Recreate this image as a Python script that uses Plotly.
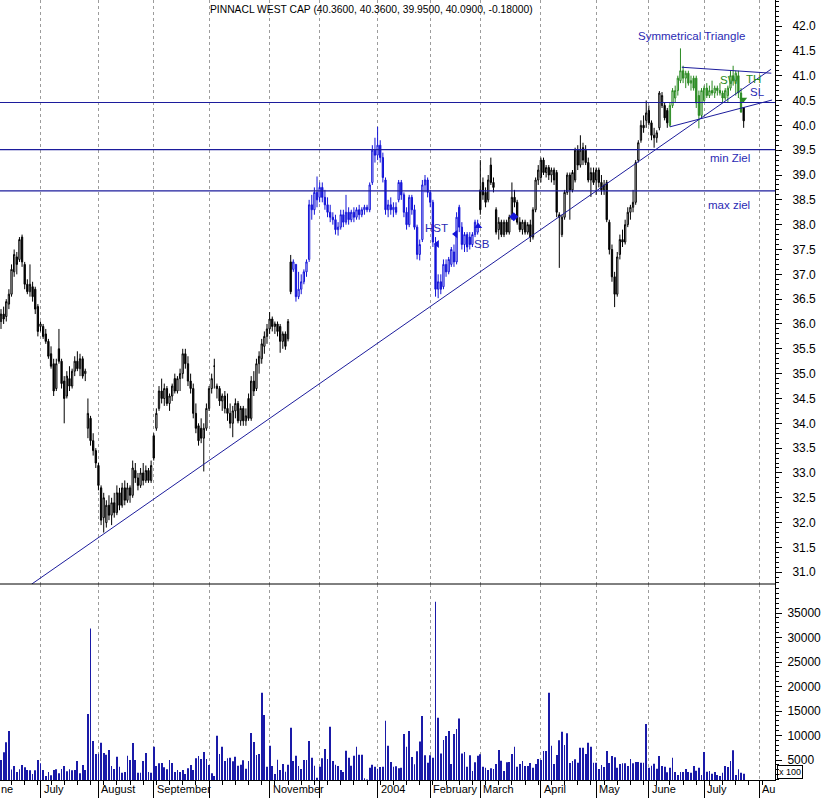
import plotly.graph_objects as go

TITLE = "PINNACL WEST CAP (40.3600, 40.3600, 39.9500, 40.0900, -0.18000)"

# ---- daily OHLC (trading-day index 0 = 10 Jun 2003 ... 282 = 23 Jul 2004) ----
opens = [
    36.05, 36.20, 36.15, 36.40, 36.60, 37.05, 37.35, 37.30, 37.75, 37.20, 36.80, 36.65, 36.75, 36.70, 36.35,
    35.95, 35.95, 35.80, 35.65, 35.40, 35.20, 34.70, 35.50, 35.25, 34.85, 34.55, 34.90, 34.75, 35.05, 35.25,
    35.10, 35.30, 35.00, 33.90, 34.10, 33.65, 33.45,
    33.15, 32.70, 32.10, 32.00, 32.35, 32.15, 32.40, 32.20, 32.60, 32.35, 32.70, 32.45, 32.70, 32.55, 33.05,
    32.90, 32.75, 33.00, 32.85, 33.05, 32.85,
    33.75, 33.90, 34.30, 34.65, 34.50, 34.70, 34.40, 34.55, 34.90, 34.65, 34.90, 35.00, 35.40, 35.20, 34.85,
    34.70, 34.20, 33.95, 33.90, 33.70, 33.90,
    34.30, 34.70, 35.15, 34.75, 34.70, 34.45, 34.55, 34.30, 34.20, 34.00, 34.25, 34.40, 34.05, 34.30, 34.05,
    34.50, 34.10, 34.85, 34.70, 35.20, 35.30, 35.55, 35.75,
    35.90, 36.10, 35.95, 36.00, 35.95, 35.65, 35.80, 35.70, 37.25, 37.10, 37.20, 36.55, 36.70, 36.85, 37.05,
    37.30, 38.40, 38.30, 38.65,
    38.55, 38.75, 38.55, 38.40, 38.25, 38.15, 38.10, 37.90, 37.95, 38.20, 38.05, 38.25, 38.10, 38.25, 38.15,
    38.30, 38.20, 38.30, 38.35, 38.30, 38.85, 39.50,
    39.40, 39.60, 39.35, 38.90, 38.30, 38.40, 38.30, 38.35, 38.50, 38.85, 38.60, 38.25, 38.00, 38.55, 38.30,
    37.95, 37.40, 37.70, 38.80, 38.90,
    38.65, 38.45, 37.60, 36.70, 36.85, 36.75, 37.20, 37.05, 37.20, 37.45, 37.25, 38.35, 37.95, 37.60, 37.80,
    37.75, 37.60, 37.80, 37.85,
    38.70, 38.85, 38.65, 38.50, 39.20, 38.85, 38.30, 37.90, 38.05, 37.80, 38.05, 37.85, 38.15, 38.55, 38.45,
    38.05, 37.90, 38.05, 37.85, 38.00, 37.75, 38.30, 38.90,
    38.95, 39.30, 39.05, 39.15, 39.00, 39.10, 39.05, 38.20, 37.80, 38.15, 38.65, 39.00, 38.70, 38.90, 39.50,
    39.20, 39.55, 39.50, 39.25, 38.90, 39.05,
    38.90, 39.10, 38.85, 38.70, 38.85, 38.05, 37.50, 36.95, 36.60, 37.40, 37.70, 37.65, 38.00, 38.25, 38.35,
    38.45, 39.30, 39.70, 40.00, 40.10,
    40.30, 40.05, 39.80, 39.75, 39.95, 40.40, 40.40, 40.30, 40.00, 40.40, 40.55, 40.70, 40.90, 41.10, 40.95,
    41.05, 40.85, 40.95, 40.95, 40.60, 40.20,
    40.50, 40.75, 40.60, 40.70, 40.65, 40.75, 40.70, 40.65, 40.55, 40.60, 40.75, 41.00, 40.90, 41.00, 40.65,
    40.36,
]
highs = [
    36.30, 36.35, 36.50, 36.70, 37.20, 37.50, 37.45, 37.75, 37.80, 37.25, 36.90, 37.20, 36.85, 36.75, 36.40,
    36.05, 36.00, 35.90, 35.70, 35.55, 35.30, 35.30, 35.90, 35.30, 34.95, 35.05, 35.15, 35.10, 35.35, 35.45,
    35.40, 35.35, 35.10, 34.50, 34.15, 33.80, 33.50,
    33.20, 32.75, 32.60, 32.45, 32.55, 32.50, 32.60, 32.75, 32.70, 32.80, 32.85, 32.80, 32.75, 33.25, 33.20,
    33.00, 33.10, 33.20, 33.15, 33.10, 33.25,
    33.80, 34.30, 34.75, 34.90, 34.80, 34.75, 34.60, 34.80, 35.00, 34.95, 35.10, 35.50, 35.50, 35.35, 35.00,
    34.80, 34.40, 34.00, 34.10, 34.00, 34.40,
    34.75, 35.00, 35.30, 34.80, 34.75, 34.60, 34.65, 34.60, 34.40, 34.35, 34.50, 34.45, 34.35, 34.35, 34.30,
    34.60, 34.95, 35.05, 35.30, 35.45, 35.70, 35.85, 36.00,
    36.24, 36.15, 36.05, 36.05, 36.00, 35.85, 35.85, 36.10, 37.39, 37.30, 37.20, 37.05, 37.00, 37.10, 37.30,
    38.50, 38.60, 38.75, 38.97,
    38.85, 38.85, 38.70, 38.55, 38.40, 38.25, 38.20, 38.05, 38.30, 38.30, 38.60, 38.35, 38.30, 38.35, 38.35,
    38.40, 38.35, 38.40, 38.40, 38.85, 39.60, 39.75,
    39.97, 39.70, 39.45, 38.95, 38.50, 38.55, 38.45, 38.45, 38.90, 38.90, 38.65, 38.35, 38.60, 38.60, 38.40,
    38.00, 37.70, 38.90, 39.00, 38.95,
    38.70, 38.50, 37.75, 37.00, 37.00, 37.30, 37.30, 37.35, 37.55, 37.60, 38.25, 38.40, 38.05, 37.85, 37.85,
    37.85, 37.85, 38.10, 38.10,
    39.30, 38.95, 38.75, 39.00, 39.35, 38.95, 38.35, 38.15, 38.10, 38.10, 38.10, 38.20, 38.85, 38.70, 38.50,
    38.15, 38.10, 38.10, 38.05, 38.10, 38.35, 38.95, 39.20,
    39.35, 39.35, 39.20, 39.20, 39.15, 39.15, 39.10, 38.25, 38.20, 38.70, 39.05, 39.05, 39.10, 39.55, 39.60,
    39.80, 39.65, 39.60, 39.35, 39.15, 39.15,
    39.15, 39.15, 39.00, 38.90, 38.90, 38.10, 37.60, 37.05, 37.45, 37.80, 37.90, 38.10, 38.35, 38.40, 38.70,
    39.30, 39.70, 40.10, 40.20, 40.50,
    40.40, 40.10, 39.95, 39.90, 40.69, 40.67, 40.45, 40.35, 40.45, 40.75, 40.80, 41.00, 41.55, 41.20, 41.10,
    41.10, 41.00, 41.00, 41.00, 40.70, 40.75,
    40.80, 40.85, 40.80, 40.90, 40.80, 40.80, 40.85, 40.70, 40.75, 40.80, 41.10, 41.20, 41.10, 41.10, 40.75,
    40.36,
]
lows = [
    35.90, 36.00, 36.05, 36.30, 36.55, 36.95, 37.00, 37.25, 37.15, 36.70, 36.60, 36.55, 36.45, 36.20, 35.75,
    35.85, 35.70, 35.60, 35.30, 35.10, 34.55, 34.65, 35.20, 34.70, 34.00, 34.50, 34.65, 34.70, 34.95, 35.05,
    34.95, 34.90, 34.85, 33.70, 33.55, 33.35, 33.10,
    32.65, 31.95, 31.80, 31.90, 32.05, 31.95, 32.10, 32.15, 32.25, 32.30, 32.35, 32.40, 32.40, 32.50, 32.80,
    32.65, 32.70, 32.75, 32.80, 32.80, 32.80,
    33.25, 33.85, 34.25, 34.40, 34.35, 34.35, 34.25, 34.45, 34.60, 34.60, 34.65, 34.90, 35.10, 34.75, 34.60,
    34.10, 33.80, 33.55, 33.60, 33.03, 33.85,
    34.25, 34.60, 34.70, 34.50, 34.35, 34.25, 34.20, 34.05, 33.90, 33.72, 34.10, 34.00, 33.95, 33.95, 33.95,
    34.05, 34.05, 34.55, 34.65, 35.00, 35.20, 35.40, 35.60,
    35.80, 35.85, 35.80, 35.75, 35.42, 35.50, 35.48, 35.65, 36.60, 37.05, 36.45, 36.50, 36.60, 36.80, 36.95,
    37.25, 38.10, 38.20, 38.35,
    38.45, 38.45, 38.30, 38.15, 38.05, 38.00, 37.80, 37.78, 37.90, 37.95, 38.00, 38.00, 38.05, 38.05, 38.10,
    38.10, 38.15, 38.20, 38.25, 38.25, 38.80, 39.25,
    39.30, 39.25, 38.85, 38.20, 38.15, 38.20, 38.15, 38.20, 38.45, 38.50, 38.15, 37.90, 37.95, 38.20, 37.90,
    37.30, 37.28, 37.65, 38.65, 38.55,
    38.35, 37.55, 36.55, 36.52, 36.60, 36.70, 36.95, 37.00, 37.15, 37.15, 37.20, 37.85, 37.50, 37.45, 37.45,
    37.50, 37.55, 37.75, 37.80,
    38.20, 38.50, 38.35, 38.45, 38.80, 38.65, 37.80, 37.70, 37.75, 37.75, 37.80, 37.80, 38.10, 38.35, 38.00,
    37.85, 37.80, 37.80, 37.80, 37.65, 37.70, 38.25, 38.80,
    38.85, 39.00, 38.95, 38.90, 38.85, 38.80, 38.15, 37.13, 37.75, 38.10, 38.60, 38.10, 38.65, 38.85, 39.10,
    39.15, 39.20, 39.20, 38.85, 38.56, 38.80,
    38.60, 38.75, 38.60, 38.60, 38.05, 37.40, 36.85, 36.34, 36.55, 37.30, 37.55, 37.60, 37.95, 38.10, 38.25,
    38.40, 39.25, 39.65, 39.85, 39.95,
    40.00, 39.70, 39.55, 39.65, 39.90, 40.35, 40.10, 39.95, 39.97, 40.35, 40.45, 40.60, 40.85, 40.85, 40.75,
    40.80, 40.70, 40.70, 40.35, 39.94, 40.15,
    40.45, 40.55, 40.55, 40.60, 40.55, 40.60, 40.60, 40.45, 40.50, 40.45, 40.70, 40.80, 40.60, 40.55, 40.25,
    39.95,
]
closes = [
    36.20, 36.10, 36.45, 36.60, 37.10, 37.40, 37.20, 37.70, 37.25, 36.80, 36.65, 36.80, 36.55, 36.30, 35.85,
    36.00, 35.75, 35.65, 35.35, 35.15, 34.65, 35.20, 35.25, 34.80, 34.50, 34.95, 34.75, 35.05, 35.25, 35.10,
    35.30, 34.95, 35.05, 34.20, 33.65, 33.45, 33.20,
    32.75, 32.05, 32.50, 32.35, 32.15, 32.40, 32.20, 32.60, 32.35, 32.70, 32.45, 32.70, 32.55, 33.10, 32.90,
    32.75, 33.00, 32.85, 33.05, 32.85, 33.15,
    33.30, 34.20, 34.65, 34.50, 34.70, 34.40, 34.55, 34.75, 34.65, 34.90, 35.00, 35.40, 35.20, 34.85, 34.70,
    34.20, 33.90, 33.65, 33.70, 33.90, 34.30,
    34.70, 34.90, 35.15, 34.70, 34.45, 34.55, 34.30, 34.20, 34.00, 34.25, 34.40, 34.05, 34.30, 34.05, 34.15,
    34.10, 34.85, 34.65, 35.20, 35.35, 35.60, 35.75, 35.90,
    36.10, 35.95, 36.00, 35.85, 35.65, 35.80, 35.55, 36.05, 36.65, 37.25, 36.55, 36.70, 36.85, 37.05, 37.25,
    38.40, 38.30, 38.65, 38.50,
    38.75, 38.55, 38.40, 38.25, 38.15, 38.10, 37.90, 37.95, 38.20, 38.05, 38.25, 38.10, 38.25, 38.15, 38.30,
    38.20, 38.30, 38.35, 38.30, 38.80, 39.50, 39.40,
    39.60, 39.35, 38.95, 38.30, 38.40, 38.30, 38.35, 38.25, 38.85, 38.60, 38.25, 38.00, 38.55, 38.30, 37.95,
    37.40, 37.60, 38.80, 38.90, 38.65,
    38.45, 37.65, 36.70, 36.85, 36.70, 37.20, 37.05, 37.30, 37.50, 37.25, 38.15, 37.95, 37.60, 37.80, 37.55,
    37.60, 37.80, 38.05, 38.00,
    38.30, 38.60, 38.45, 38.90, 38.85, 38.75, 37.85, 38.05, 37.80, 38.05, 37.85, 38.15, 38.55, 38.45, 38.05,
    37.90, 38.05, 37.85, 38.00, 37.75, 38.30, 38.90, 39.10,
    39.30, 39.05, 39.15, 39.00, 39.10, 38.90, 38.25, 38.15, 38.15, 38.65, 39.00, 38.70, 39.05, 39.50, 39.20,
    39.50, 39.30, 39.25, 38.90, 39.05, 38.85,
    39.10, 38.85, 38.70, 38.80, 38.10, 37.50, 36.95, 36.60, 37.35, 37.70, 37.65, 38.00, 38.25, 38.35, 38.45,
    39.25, 39.65, 40.00, 39.95, 40.25,
    40.05, 39.80, 39.75, 39.85, 40.65, 40.60, 40.15, 40.05, 40.40, 40.70, 40.70, 40.95, 41.10, 40.95, 41.05,
    40.85, 40.90, 40.75, 40.45, 40.20, 40.70,
    40.75, 40.60, 40.70, 40.65, 40.75, 40.70, 40.65, 40.55, 40.70, 40.75, 41.00, 40.90, 41.05, 40.65, 40.27,
    40.09,
]
# daily volume (in units of 100 shares)
volumes = [
    5000, 6560, 8600, 10900, 3060, 3770, 2550, 3090, 3980, 3500, 2960, 2890, 2140, 2890, 5000,
    4320, 2960, 1730, 2550, 1870, 2960, 3090, 2280, 3160, 3770, 2690, 3090, 2890, 2960, 4790,
    2280, 3980, 2960, 14380, 31860, 8870, 6220,
    6290, 8530, 6430, 6090, 7040, 3770, 3160, 5680, 3640, 2410, 2550, 5880, 5000, 8470, 5000,
    2410, 2410, 4790, 6430, 2550, 2410,
    7720, 3770, 4320, 4390, 3500, 3090, 5000, 4390, 2550, 2960, 2550, 2960, 2140, 3300, 3980,
    2960, 5370, 5810, 5200, 6630, 5200,
    3980, 2280, 1730, 9960, 6220, 7720, 4790, 5370, 5440, 4730, 5680, 3840, 4050, 4930, 3230,
    4790, 10510, 8670, 6020, 6220, 18730, 14180, 3640,
    7920, 3770, 2140, 5070, 2960, 4180, 2620, 4050, 11590, 4790, 5880, 3770, 3160, 5000, 5000,
    8870, 5470, 3840, 1390,
    3640, 5340, 7240, 5200, 11800, 4790, 4050, 3770, 2960, 2550, 6900, 5470, 3840, 5880, 7720,
    6090, 6090, 1260, 1000, 3430, 4050, 3640,
    3230, 3570, 3640, 13020, 7920, 4590, 3640, 3700, 3300, 3430, 10300, 7720, 10920, 5610, 4120,
    6800, 8770, 13970, 5980, 4420,
    5980, 5440, 37300, 13630, 6350, 9080, 9890, 10920, 4180, 10300, 11320, 13490, 6350, 6630, 3630,
    5980, 2750, 4560, 5850,
    6190, 3630, 3430, 2960, 3300, 3160, 4180, 7040, 4870, 2750, 4520, 4590, 6220, 7720, 3640,
    4180, 4790, 3770, 3770, 4390, 3430, 4180, 5200,
    5000, 6830, 6830, 18730, 7920, 4180, 6020, 9010, 10780, 8060, 10440, 4390, 4790, 5130, 4450,
    7520, 7520, 6220, 8530, 7720, 4450,
    4450, 3160, 3980, 3570, 6830, 4390, 5810, 5540, 3430, 4180, 4320, 4320, 3770, 5200, 4320,
    4590, 4590, 4450, 4450, 12350,
    3430, 3840, 4250, 3230, 5810, 3770, 3640, 2480, 3430, 5470, 2550, 1940, 2550, 2550, 3160,
    2550, 2410, 3770, 2820, 3430, 1940,
    6630, 2620, 2750, 2210, 2550, 1940, 1730, 2380, 3770, 3570, 4790, 6970, 1940, 3090, 2410,
    2210,
]
day_index = list(range(len(closes)))

# trading-day index of the first session of each month, and its label
month_start = [-6, 15, 37, 58, 79, 102, 121, 143, 163, 182, 205, 226, 246, 267, 288]
month_label = ["ne", "July", "August", "September", "", "November", "", "2004",
               "February", "March", "April", "May", "June", "July", "Au"]

# candle colouring by pattern segment (first index, last index, colour)
color_segments = [(0, 110, "#000000"), (111, 181, "#1414d8"), (182, 253, "#000000"),
                  (254, 281, "#2a8a22"), (282, 282, "#000000")]

# horizontal target levels
levels = [40.46, 39.51, 38.68]
# trend lines: (index, price) end points
trend_idx = [11.6, 292.4]
trend_px = [30.76, 41.13]
tri_upper_idx = [258.5, 292.5]
tri_upper_px = [41.17, 41.05]
tri_lower_idx = [254.0, 292.8]
tri_lower_px = [39.97, 40.51]

# signal markers
sig_idx = [165.6, 172.6, 181.2, 194.7, 281.8]
sig_px = [37.61, 37.81, 37.97, 38.16, 40.52]
sig_sym = ["triangle-left", "triangle-left", "triangle-up", "diamond", "triangle-down"]
sig_col = ["#1414d8", "#1414d8", "#1414d8", "#1414d8", "#2a8a22"]

price_ticks = [31.0 + 0.5 * k for k in range(23)]
vol_ticks = [5000, 10000, 15000, 20000, 25000, 30000, 35000]

X_MIN, X_MAX = -0.38, 293.9
P_MIN, P_MAX = 30.764, 42.524
V_MIN, V_MAX = 918, 40918
SPLIT = 196 / 780

LINE_BLUE = "#1c1c9c"
TEXT_BLUE = "#2a2ab4"
FONT = "Liberation Sans, Arial, sans-serif"

fig = go.Figure()

for a, b, col in color_segments:
    sl = slice(a, b + 1)
    fig.add_trace(go.Candlestick(
        x=day_index[sl], open=opens[sl], high=highs[sl], low=lows[sl], close=closes[sl],
        increasing=dict(line=dict(color=col, width=1), fillcolor="white"),
        decreasing=dict(line=dict(color=col, width=1), fillcolor=col),
        whiskerwidth=0, showlegend=False, hoverinfo="skip",
        xaxis="x", yaxis="y",
    ))

for xs, ys in [(trend_idx, trend_px), (tri_upper_idx, tri_upper_px), (tri_lower_idx, tri_lower_px)]:
    fig.add_trace(go.Scatter(x=xs, y=ys, mode="lines", line=dict(color=LINE_BLUE, width=1),
                             showlegend=False, hoverinfo="skip", xaxis="x", yaxis="y"))

fig.add_trace(go.Scatter(x=sig_idx, y=sig_px, mode="markers",
                         marker=dict(symbol=sig_sym, color=sig_col, size=7, line=dict(width=0)),
                         showlegend=False, hoverinfo="skip", xaxis="x", yaxis="y"))

fig.add_trace(go.Bar(x=day_index, y=volumes, width=0.3,
                     marker=dict(color="#1a1aa8", line=dict(width=0)),
                     showlegend=False, hoverinfo="skip", xaxis="x2", yaxis="y2"))

shapes = []
for lv in levels:
    shapes.append(dict(type="line", xref="paper", yref="y", x0=0, x1=1, y0=lv, y1=lv,
                       line=dict(color=LINE_BLUE, width=1.2), layer="above"))
shapes.append(dict(type="line", xref="paper", yref="paper", x0=0, x1=1, y0=SPLIT, y1=SPLIT,
                   line=dict(color="black", width=1), layer="above"))

annotations = []
annotations.append(dict(text=TITLE, xref="paper", yref="paper", x=372 / 777, y=1,
                        xanchor="center", yanchor="top", yshift=-2, showarrow=False,
                        font=dict(family=FONT, size=10.3, color="black")))
for idx, lab in zip(month_start, month_label):
    if not lab:
        continue
    xp = max((idx - X_MIN) / (X_MAX - X_MIN), 0.0)
    annotations.append(dict(text=lab, xref="paper", yref="paper",
                            x=xp, y=0,
                            xanchor="left", yanchor="top", xshift=1 if xp > 0 else -1,
                            yshift=-1, showarrow=False,
                            font=dict(family=FONT, size=11, color="black")))

labels = [
    ("Symmetrical Triangle", 262.3, 41.80, TEXT_BLUE),
    ("min Ziel", 276.9, 39.34, TEXT_BLUE),
    ("max ziel", 276.5, 38.40, TEXT_BLUE),
    ("HST", 165.5, 37.93, TEXT_BLUE),
    ("SB", 182.6, 37.61, TEXT_BLUE),
    ("SW", 276.5, 40.91, "#2a8a22"),
    ("TH", 285.6, 40.93, "#2a8a22"),
    ("SL", 287.1, 40.67, TEXT_BLUE),
]
for txt, xi, yp, col in labels:
    annotations.append(dict(text=txt, xref="x", yref="y", x=xi, y=yp, showarrow=False,
                            xanchor="center", yanchor="middle",
                            font=dict(family=FONT, size=11.5, color=col)))
annotations.append(dict(text="x 100", xref="paper", yref="paper", x=1, y=0,
                        xanchor="left", yanchor="bottom", xshift=2, yshift=1, showarrow=False,
                        bordercolor="black", borderwidth=1, borderpad=1,
                        font=dict(family=FONT, size=9, color="black")))

grid = dict(showgrid=True, gridcolor="#9c9c9c", gridwidth=1, griddash="3px,3px")

fig.update_layout(
    width=821, height=798,
    margin=dict(l=0, r=44, t=0, b=18),
    paper_bgcolor="white", plot_bgcolor="white",
    showlegend=False, hovermode=False,
    font=dict(family=FONT, size=12, color="black"),
    shapes=shapes, annotations=annotations,
    xaxis=dict(domain=[0, 1], anchor="y", range=[X_MIN, X_MAX], tickmode="array",
               tickvals=month_start, showticklabels=False, ticks="", zeroline=False,
               showline=False, rangeslider=dict(visible=False), **grid),
    xaxis2=dict(domain=[0, 1], anchor="y2", range=[X_MIN, X_MAX], tickmode="array",
                tickvals=month_start, showticklabels=False, ticks="outside", ticklen=18,
                tickcolor="black", tickwidth=1, zeroline=False, showline=True,
                linecolor="black", linewidth=1,
                minor=dict(tickmode="linear", tick0=4, dtick=5, ticks="outside", ticklen=4,
                           tickcolor="black", showgrid=False),
                **grid),
    yaxis=dict(domain=[SPLIT, 1], anchor="x", side="right", range=[P_MIN, P_MAX],
               tickmode="array", tickvals=price_ticks,
               ticktext=["%.1f" % v for v in price_ticks],
               ticks="outside", ticklen=6, tickcolor="black", showline=True,
               linecolor="black", linewidth=1, showgrid=False, zeroline=False,
               ticklabelstandoff=8,
               minor=dict(tickmode="linear", tick0=0, dtick=0.1, ticks="outside",
                          ticklen=3, tickcolor="black", showgrid=False),
               tickfont=dict(family=FONT, size=12, color="black")),
    yaxis2=dict(domain=[0, SPLIT], anchor="x2", side="right", range=[V_MIN, V_MAX],
                tickmode="array", tickvals=vol_ticks, ticktext=[str(v) for v in vol_ticks],
                ticks="outside", ticklen=6, tickcolor="black", showline=True,
                linecolor="black", linewidth=1, showgrid=False, zeroline=False,
                ticklabelstandoff=3,
                minor=dict(tickmode="linear", tick0=0, dtick=1000, ticks="outside",
                           ticklen=3, tickcolor="black", showgrid=False),
                tickfont=dict(family=FONT, size=12, color="black")),
)

fig.write_html("out.html", config={"displayModeBar": False},
               post_script="document.body.style.margin='0';document.body.style.padding='0';")
